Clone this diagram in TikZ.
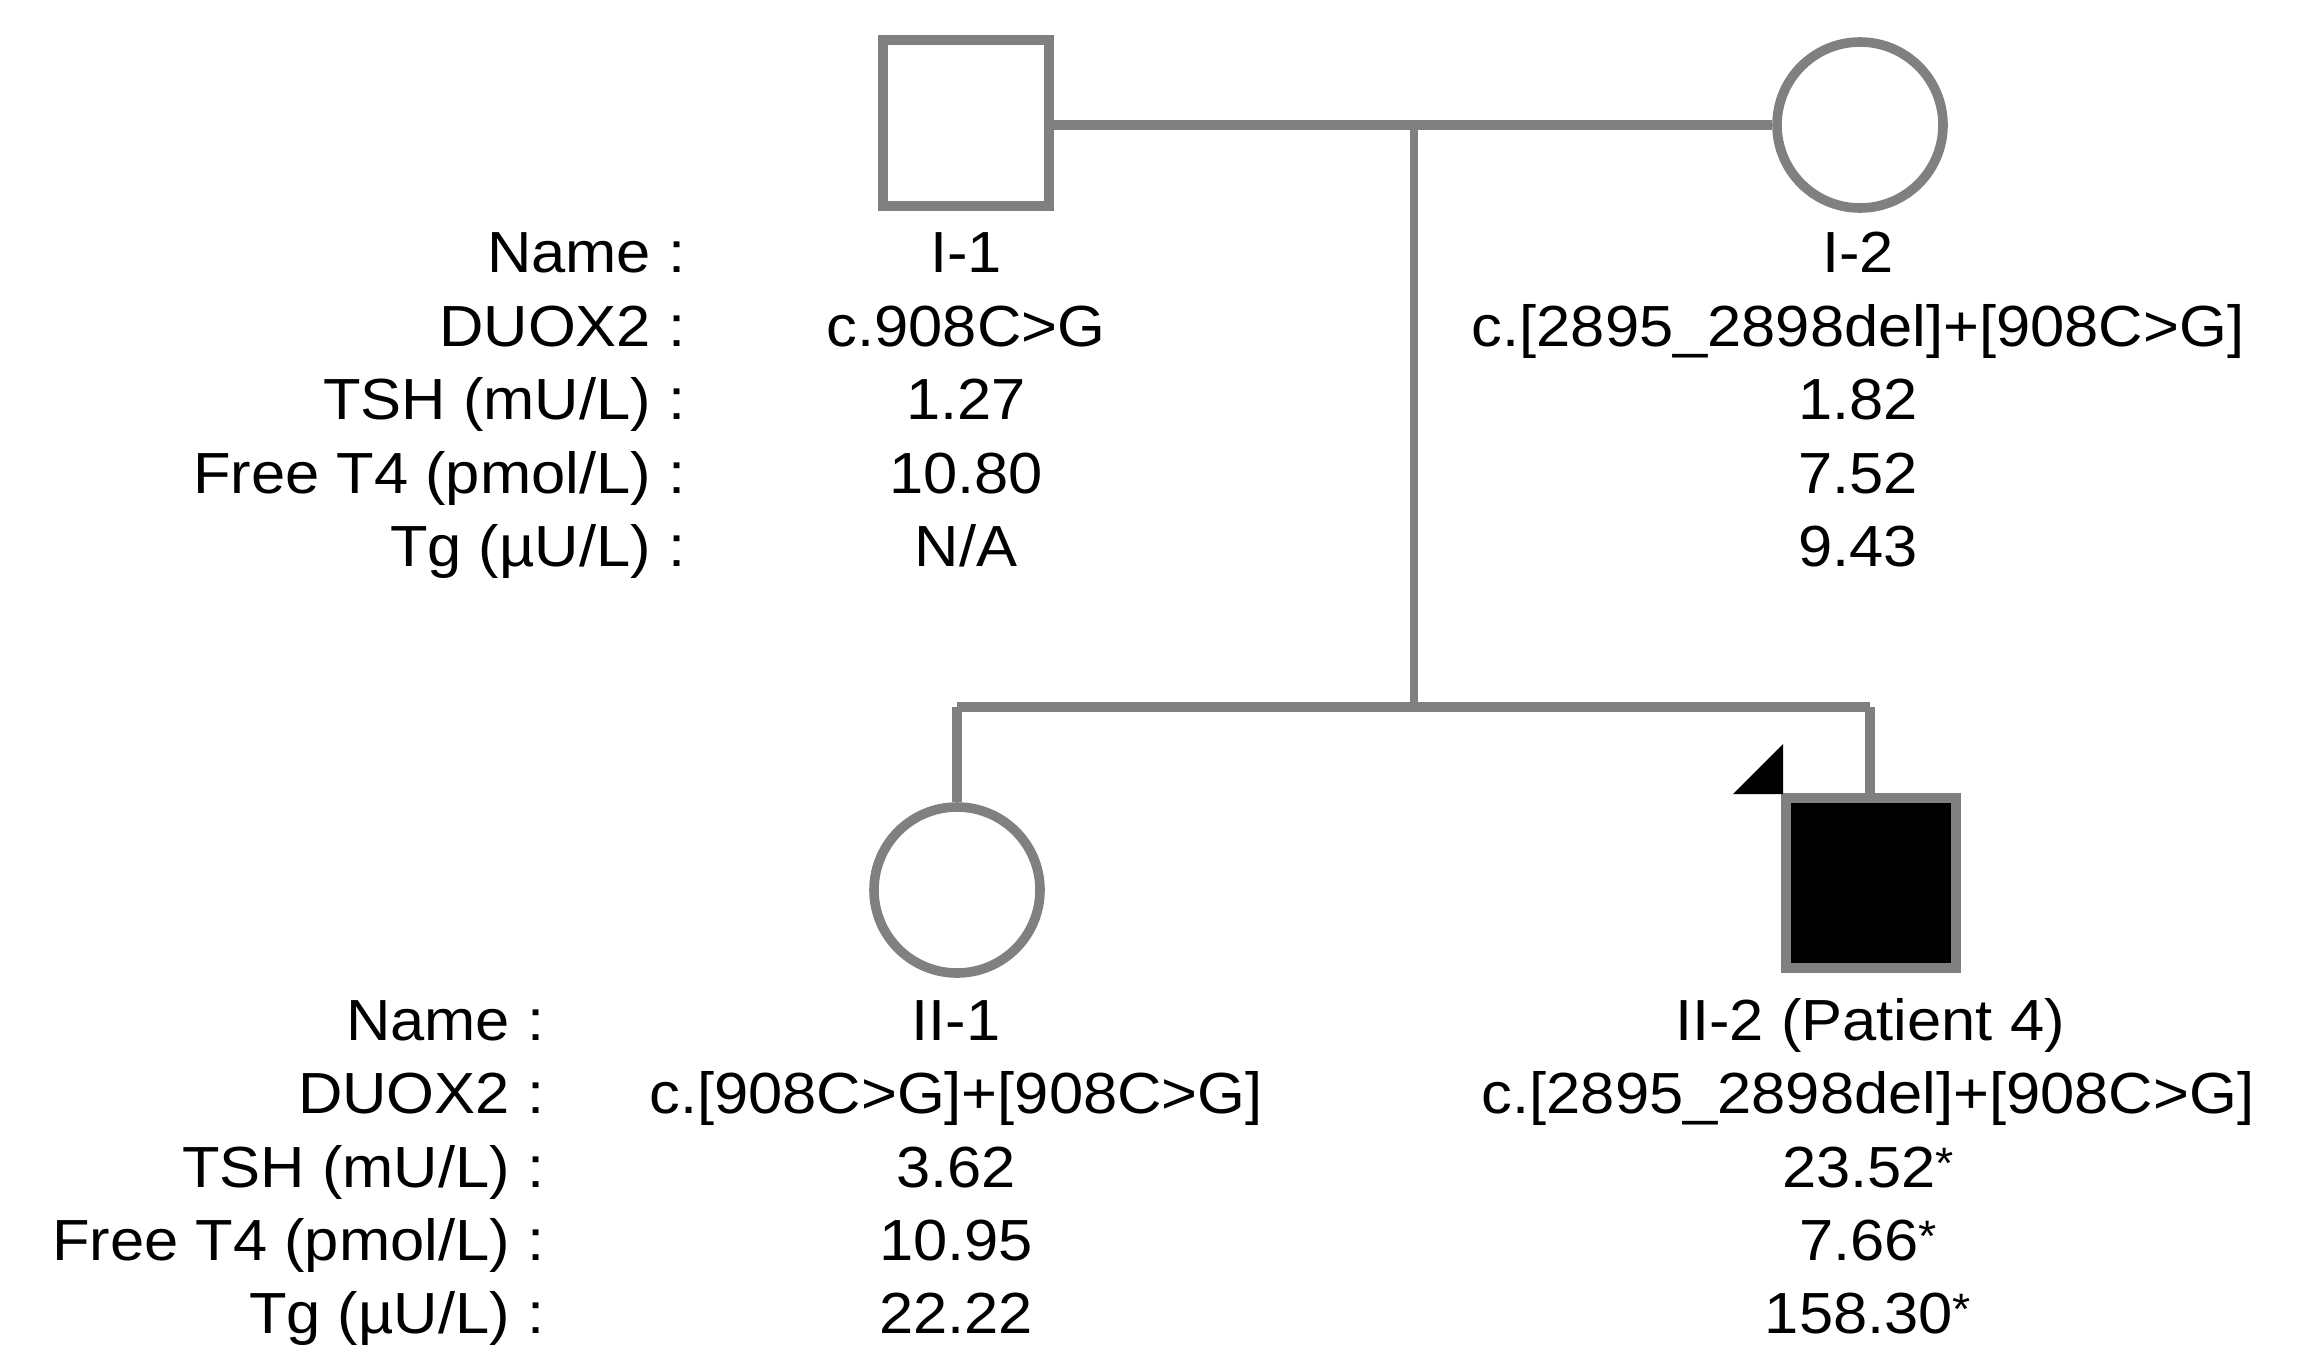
\documentclass[tikz,border=0pt]{standalone}
\usepackage{fontspec}
\setmainfont{Liberation Sans}[FakeStretch=1.06]
\usetikzlibrary{calc}
\definecolor{pedgray}{RGB}{128,128,128}
\newcommand{\sigmark}{{\fontsize{11}{12}\selectfont\raisebox{0.35ex}{*}}}
\begin{document}
\begin{tikzpicture}[x=0.25pt,y=-0.25pt,
  male/.style={draw=pedgray,line width=2.5pt,minimum size=41.5pt,inner sep=0pt,rectangle},
  female/.style={draw=pedgray,line width=2.4pt,minimum size=41.5pt,inner sep=0pt,circle},
  link/.style={draw=pedgray,line width=2.5pt},
  thinlink/.style={draw=pedgray,line width=1.9pt},
  lab/.style={anchor=base east,inner sep=0pt,font=\fontsize{14.5}{17}\selectfont},
  val/.style={anchor=base,inner sep=0pt,font=\fontsize{14.5}{17}\selectfont}]
\useasboundingbox (0,0) rectangle (2302,1351);

% individuals
\node[male] (I1) at (966,123) {};
\node[female] (I2) at (1860,125) {};
\node[female] (II1) at (957,890) {};
\node[male,fill=black,minimum size=42.5pt] (II2) at (1871,883) {};

% connectors
\coordinate (mate) at (1414,125);
\coordinate (sibL) at (957,707);
\coordinate (sibM) at (1414,707);
\coordinate (sibR) at (1870,707);
\draw[link] (I1.east |- mate) -- (I2.west |- mate);
\draw[thinlink] (mate) -- (sibM);
\draw[link] (sibL) -- (sibR);
\draw[link] (sibL) -- (II1.north);
\draw[link] (sibR) -- (sibR |- II2.north);

% proband arrow
\fill[black] ($(II2.north west)+(2,1)$) -- ++(-50,0) -- ++(50,-50) -- cycle;

% top labels
\node[lab] (lt1) at (686,272) {Name :};
\node[lab] (lt2) at (686,346) {DUOX2 :};
\node[lab] (lt3) at (686,419) {TSH (mU/L) :};
\node[lab] (lt4) at (686,493) {Free T4 (pmol/L) :};
\node[lab] (lt5) at (686,566) {Tg (µU/L) :};

\node[val] (a1) at (966,272) {I-1};
\node[val] (a2) at (966,346) {c.908C>G};
\node[val] (a3) at (966,419) {1.27};
\node[val] (a4) at (966,493) {10.80};
\node[val] (a5) at (966,566) {N/A};

\node[val] (b1) at (1858,272) {I-2};
\node[val] (b2) at (1858,346) {c.[2895\_2898del]+[908C>G]};
\node[val] (b3) at (1858,419) {1.82};
\node[val] (b4) at (1858,493) {7.52};
\node[val] (b5) at (1858,566) {9.43};

% bottom labels
\node[lab] (lb1) at (545,1040) {Name :};
\node[lab] (lb2) at (545,1113) {DUOX2 :};
\node[lab] (lb3) at (545,1187) {TSH (mU/L) :};
\node[lab] (lb4) at (545,1260) {Free T4 (pmol/L) :};
\node[lab] (lb5) at (545,1333) {Tg (µU/L) :};

\node[val] (c1) at (956,1040) {II-1};
\node[val] (c2) at (956,1113) {c.[908C>G]+[908C>G]};
\node[val] (c3) at (956,1187) {3.62};
\node[val] (c4) at (956,1260) {10.95};
\node[val] (c5) at (956,1333) {22.22};

\node[val] (d1) at (1870,1040) {II-2 (Patient 4)};
\node[val] (d2) at (1868,1113) {c.[2895\_2898del]+[908C>G]};
\node[val] (d3) at (1868,1187) {23.52\sigmark};
\node[val] (d4) at (1868,1260) {7.66\sigmark};
\node[val] (d5) at (1868,1333) {158.30\sigmark};
\end{tikzpicture}
\end{document}
